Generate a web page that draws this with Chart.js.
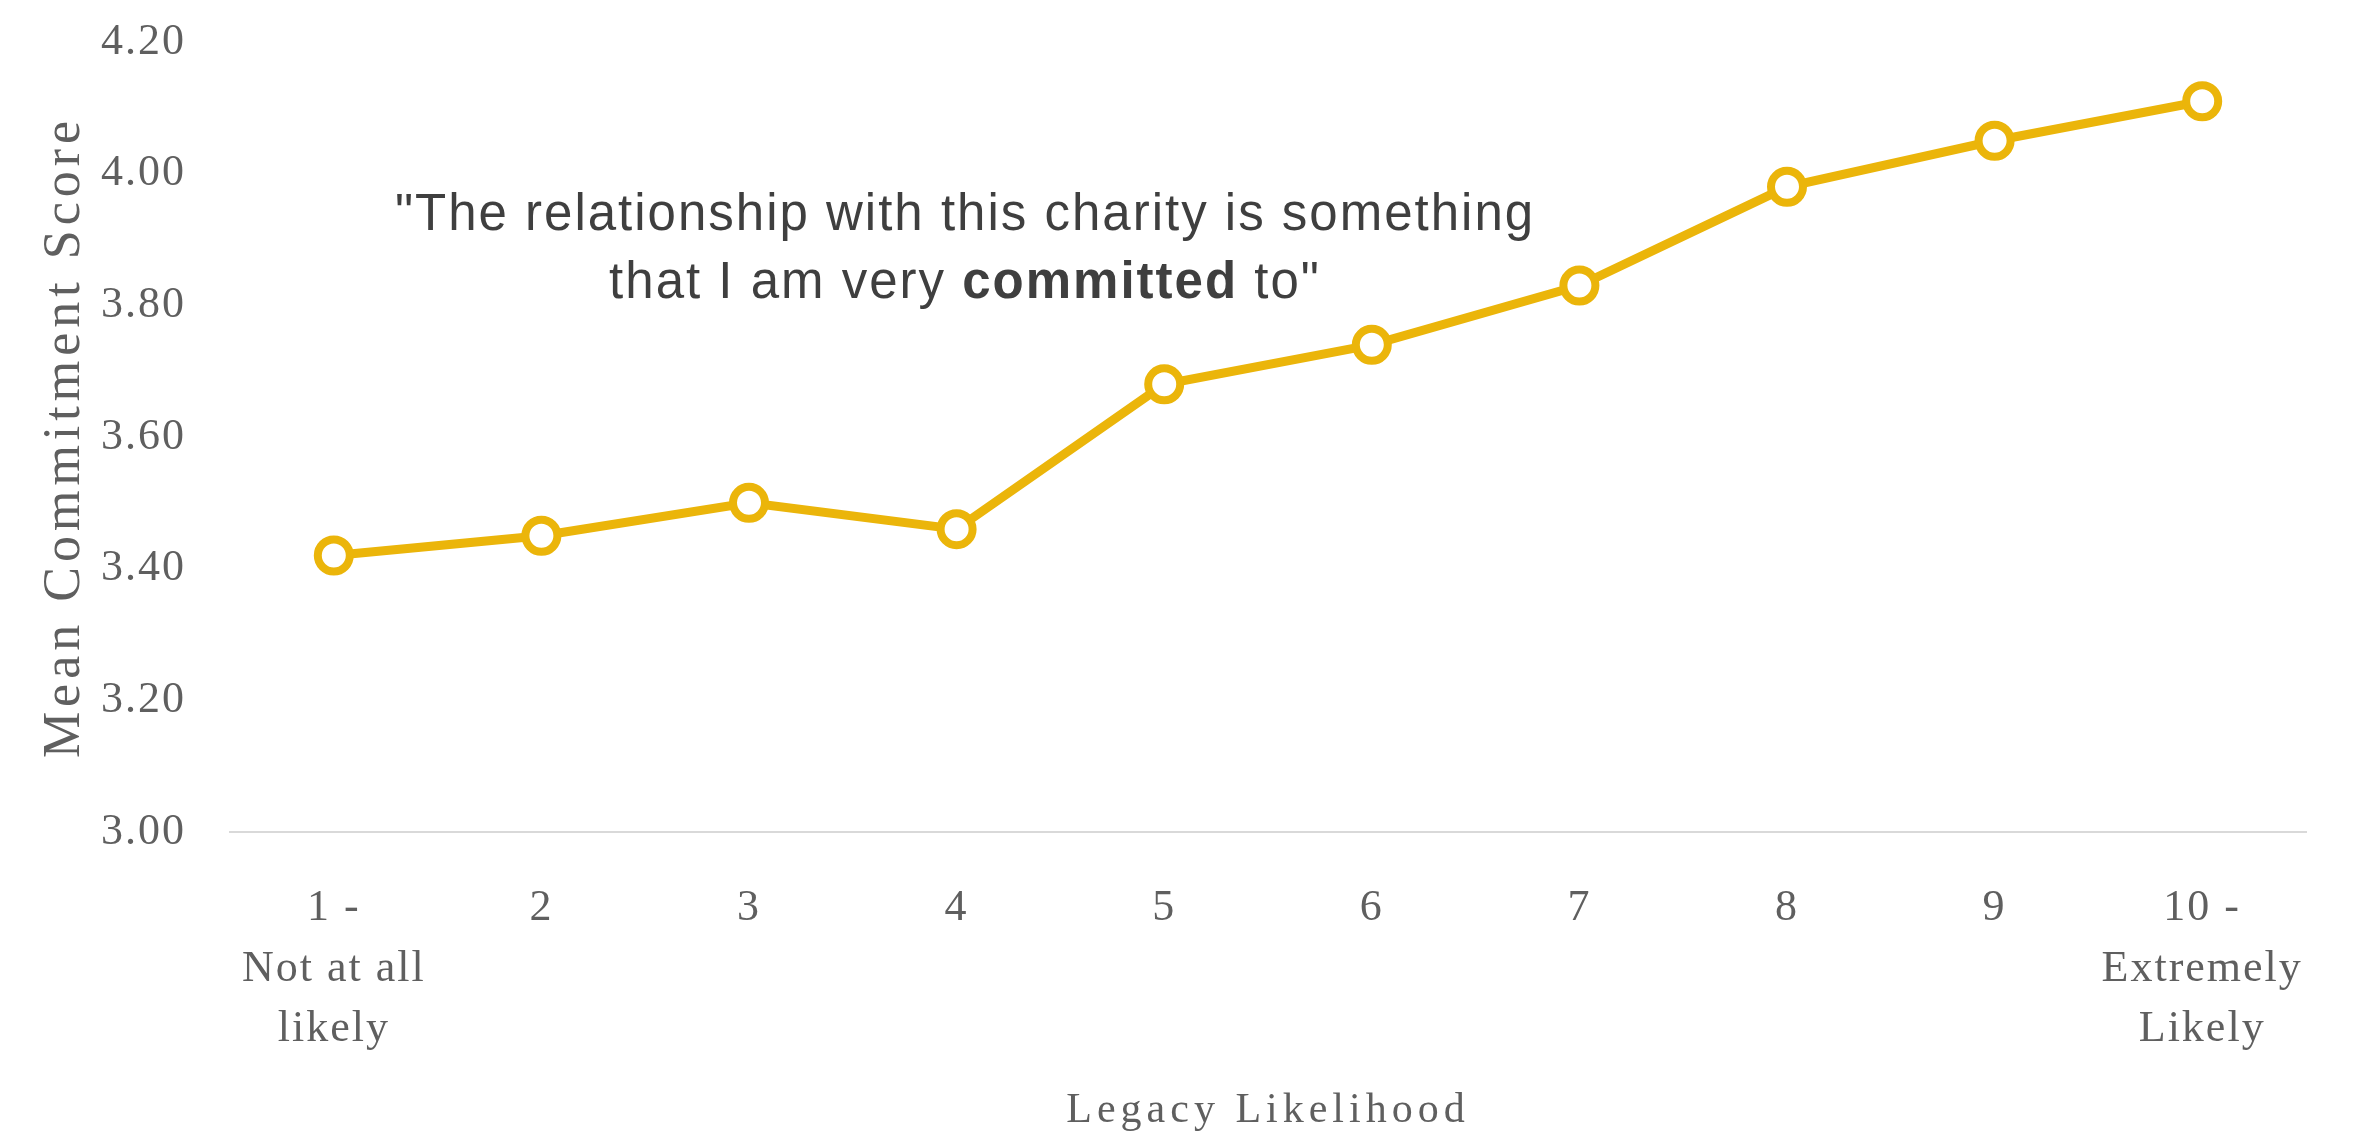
<!DOCTYPE html>
<html>
<head>
<meta charset="utf-8">
<script src="https://cdn.jsdelivr.net/npm/chart.js@4/dist/chart.umd.min.js"></script>
<style>
  html, body { margin: 0; padding: 0; background: #fff; }
  #wrap { width: 2357px; height: 1136px; }
</style>
</head>
<body>
<div id="wrap"><canvas id="commitChart"></canvas></div>
<script>
  // data
  const categories = [['1 -', 'Not at all', 'likely'], '2', '3', '4', '5', '6', '7', '8', '9', ['10 -', 'Extremely', 'Likely']];
  const commitment = [3.42, 3.45, 3.50, 3.46, 3.68, 3.74, 3.83, 3.98, 4.05, 4.11];
  const yMin = 3.0, yMax = 4.2, yStep = 0.2;
  const quoteLine1 = '"The relationship with this charity is something';
  const quoteLine2 = ['that I am very ', 'committed', ' to"'];

  const gold = '#EBB50A';
  const grey = '#5f5f5f';

  // text spacing: titles a bit loose, tick labels slightly
  const spacing = {
    id: 'spacing',
    beforeDraw(chart) { chart.ctx.letterSpacing = '5px'; },
    beforeDatasetsDraw(chart) { chart.ctx.letterSpacing = '2px'; }
  };

  // the quote inside the plot
  const quote = {
    id: 'quote',
    afterDraw(chart) {
      const ctx = chart.ctx;
      ctx.save();
      ctx.letterSpacing = '2px';
      ctx.fillStyle = '#3f3f3f';
      ctx.textBaseline = 'alphabetic';
      ctx.textAlign = 'center';
      ctx.font = '51px "Liberation Sans", Arial, sans-serif';
      const cx = 965;
      ctx.fillText(quoteLine1, cx, 230);

      // second line, middle word bold
      const fonts = ['51px "Liberation Sans", Arial, sans-serif', 'bold 51px "Liberation Sans", Arial, sans-serif', '51px "Liberation Sans", Arial, sans-serif'];
      const widths = quoteLine2.map((t, i) => { ctx.font = fonts[i]; return ctx.measureText(t).width; });
      let x = cx - widths.reduce((a, b) => a + b, 0) / 2;
      ctx.textAlign = 'left';
      quoteLine2.forEach((t, i) => {
        ctx.font = fonts[i];
        ctx.fillText(t, x, 298);
        x += widths[i];
      });
      ctx.restore();
    }
  };

  new Chart(document.getElementById('commitChart').getContext('2d'), {
    type: 'line',
    data: {
      labels: categories,
      datasets: [{
        label: 'Mean Commitment Score',
        data: commitment,
        borderColor: gold,
        borderWidth: 9,
        tension: 0,
        pointRadius: 16,
        pointHoverRadius: 16,
        pointBorderWidth: 8,
        pointBackgroundColor: '#ffffff',
        pointBorderColor: gold
      }]
    },
    options: {
      responsive: true,
      maintainAspectRatio: false,
      animation: false,
      layout: { padding: { top: 42, right: 51, bottom: 0, left: 0 } },
      plugins: {
        legend: { display: false },
        tooltip: { enabled: false }
      },
      scales: {
        x: {
          offset: true,
          afterFit: s => { s.height = 304; },
          grid: { display: false, drawTicks: false },
          border: { display: true, color: '#d9d9d9', width: 2 },
          ticks: {
            z: 1,
            padding: 46,
            maxRotation: 0,
            autoSkip: false,
            color: grey,
            font: { family: '"Liberation Serif", "Times New Roman", serif', size: 44, lineHeight: 1.38 }
          },
          title: {
            display: true,
            text: 'Legacy Likelihood',
            color: grey,
            padding: { top: 0, bottom: 0 },
            font: { family: '"Liberation Serif", "Times New Roman", serif', size: 42, lineHeight: 1.2 }
          }
        },
        y: {
          min: yMin,
          max: yMax,
          afterFit: s => { s.width = 230; s.paddingTop = 0; s.paddingBottom = 0; },
          grid: { display: false, drawTicks: false },
          border: { display: false },
          ticks: {
            z: 1,
            stepSize: yStep,
            padding: 44,
            color: grey,
            font: { family: '"Liberation Serif", "Times New Roman", serif', size: 44 },
            callback: v => Number(v).toFixed(2)
          },
          title: {
            display: true,
            text: 'Mean Commitment Score',
            color: grey,
            padding: { top: 34, bottom: 0 },
            font: { family: '"Liberation Serif", "Times New Roman", serif', size: 52, lineHeight: 1.2 }
          }
        }
      }
    },
    plugins: [spacing, quote]
  });
</script>
</body>
</html>
